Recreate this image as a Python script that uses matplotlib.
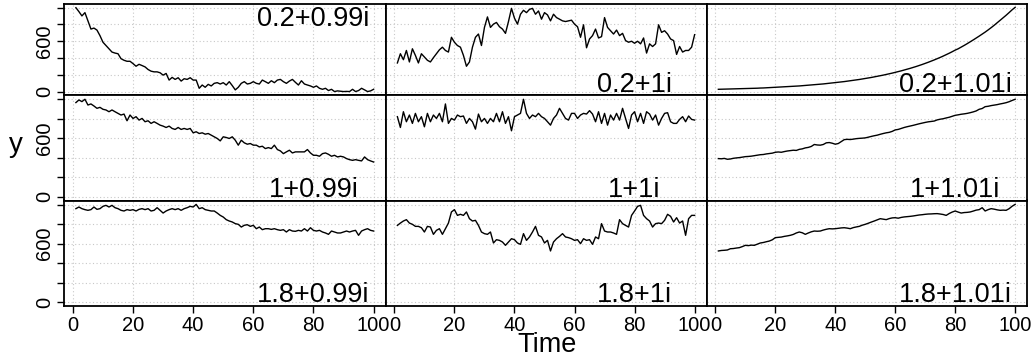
import numpy as np
import matplotlib
matplotlib.use("Agg")
import matplotlib.pyplot as plt

plt.rcParams['font.family'] = ['Liberation Sans', 'DejaVu Sans']

# ---------- data ----------
time = np.arange(1, 101)

row_a = ['0.2', '1', '1.8']
col_b = ['0.99i', '1i', '1.01i']

s_02_099 = [1000, 953, 902, 941, 843, 745, 757, 733, 667, 588,
            549, 510, 471, 459, 451, 392, 373, 361, 361, 333,
            302, 325, 310, 294, 263, 243, 235, 235, 224, 196,
            216, 137, 169, 145, 165, 125, 153, 145, 165, 137,
            137, 39, 78, 51, 86, 67, 98, 106, 90, 106,
            78, 118, 71, 20, 51, 98, 118, 90, 98, 118,
            98, 90, 137, 118, 98, 129, 106, 137, 145, 118,
            98, 125, 145, 110, 78, 129, 90, 78, 67, 51,
            67, 39, 27, 39, 12, 27, 0, 8, 4, 0,
            2, 0, 27, 0, 12, 39, 20, 0, 8, 27]
s_02_1 = [341, 451, 380, 490, 353, 510, 431, 341, 451, 412,
          373, 353, 404, 451, 498, 529, 490, 471, 647, 588,
          549, 529, 431, 302, 353, 529, 647, 686, 549, 765,
          890, 765, 804, 824, 773, 745, 694, 835, 992, 875,
          804, 922, 969, 941, 980, 992, 922, 961, 863, 941,
          914, 843, 922, 882, 863, 843, 835, 843, 851, 804,
          773, 647, 796, 522, 627, 667, 745, 639, 655, 882,
          765, 725, 686, 733, 667, 694, 608, 588, 600, 576,
          600, 569, 639, 459, 569, 537, 569, 796, 706, 725,
          686, 627, 608, 443, 537, 471, 490, 490, 529, 678]
s_02_101 = [27, 28, 29, 30, 31, 32, 33, 34, 35, 36,
            37, 38, 39, 40, 42, 43, 45, 47, 49, 51,
            53, 55, 57, 59, 61, 63, 65, 67, 70, 73,
            76, 79, 82, 85, 88, 91, 95, 99, 103, 107,
            111, 115, 119, 124, 129, 134, 139, 144, 150, 156,
            162, 168, 175, 182, 189, 196, 204, 212, 220, 229,
            238, 247, 257, 267, 277, 288, 299, 311, 323, 336,
            349, 363, 377, 392, 407, 423, 440, 457, 475, 494,
            510, 530, 550, 571, 593, 615, 638, 661, 685, 709,
            735, 762, 790, 820, 850, 880, 910, 942, 975, 1004]
s_1_099 = [966, 993, 976, 1000, 941, 952, 931, 907, 917, 897,
           890, 872, 890, 872, 855, 838, 848, 779, 838, 803,
           821, 786, 803, 769, 779, 752, 769, 752, 734, 724,
           710, 724, 700, 690, 710, 690, 700, 690, 700, 655,
           666, 648, 655, 641, 648, 631, 614, 597, 572, 614,
           607, 597, 614, 579, 528, 579, 552, 538, 545, 528,
           528, 510, 517, 493, 503, 493, 528, 483, 469, 441,
           459, 476, 448, 459, 459, 459, 459, 483, 448, 424,
           424, 414, 441, 448, 434, 414, 424, 407, 414, 407,
           390, 379, 372, 379, 372, 366, 407, 379, 366, 355]
s_1_1 = [821, 710, 872, 769, 838, 752, 855, 769, 821, 717,
         855, 769, 838, 803, 855, 769, 952, 752, 803, 786,
         838, 821, 828, 752, 803, 769, 693, 848, 769, 803,
         752, 803, 769, 855, 769, 872, 752, 821, 676, 821,
         838, 855, 1000, 855, 803, 838, 821, 855, 821, 803,
         769, 734, 803, 838, 907, 855, 803, 786, 855, 855,
         803, 838, 855, 848, 883, 848, 769, 872, 752, 855,
         734, 838, 786, 855, 786, 907, 803, 700, 838, 872,
         769, 855, 752, 872, 848, 786, 838, 734, 803, 855,
         862, 769, 752, 752, 793, 821, 769, 828, 793, 786]
s_1_101 = [390, 388, 392, 383, 386, 393, 397, 400, 405, 410,
           412, 415, 420, 425, 430, 432, 438, 442, 446, 455,
           458, 455, 462, 468, 472, 476, 474, 485, 490, 500,
           505, 515, 535, 530, 528, 535, 552, 555, 548, 538,
           545, 565, 585, 588, 586, 590, 595, 598, 600, 603,
           610, 618, 625, 631, 640, 648, 655, 660, 670, 685,
           690, 700, 710, 718, 725, 732, 740, 748, 755, 762,
           768, 772, 776, 788, 795, 800, 808, 815, 825, 835,
           840, 846, 850, 855, 862, 870, 880, 897, 905, 924,
           928, 935, 940, 945, 952, 958, 965, 975, 988, 1000]
s_18_099 = [960, 977, 960, 950, 943, 950, 977, 953, 960, 984,
            994, 977, 994, 970, 960, 943, 936, 950, 943, 950,
            936, 953, 960, 950, 960, 936, 943, 970, 943, 915,
            936, 950, 960, 950, 960, 943, 960, 970, 984, 977,
            1004, 960, 970, 950, 943, 936, 936, 915, 891, 874,
            847, 833, 823, 806, 799, 771, 789, 795, 778, 789,
            754, 771, 744, 754, 754, 747, 754, 744, 737, 744,
            720, 744, 730, 727, 737, 730, 754, 730, 764, 737,
            730, 737, 720, 710, 696, 730, 720, 710, 710, 720,
            730, 720, 730, 737, 686, 730, 744, 754, 737, 730]
s_18_1 = [788, 812, 833, 847, 812, 799, 778, 778, 764, 720,
          778, 771, 696, 737, 754, 696, 754, 812, 926, 950,
          891, 902, 891, 926, 857, 833, 840, 788, 720, 703,
          696, 720, 607, 641, 634, 617, 583, 617, 651, 641,
          607, 593, 703, 634, 669, 720, 778, 686, 669, 607,
          634, 525, 617, 651, 675, 703, 669, 662, 651, 634,
          641, 600, 651, 634, 641, 593, 669, 651, 806, 730,
          720, 720, 710, 696, 847, 806, 788, 771, 891, 936,
          984, 994, 891, 857, 833, 771, 806, 812, 806, 840,
          902, 881, 823, 867, 812, 833, 686, 857, 891, 891]
s_18_101 = [525, 530, 532, 535, 548, 550, 555, 559, 570, 583,
            580, 585, 583, 595, 607, 612, 620, 627, 640, 662,
            665, 668, 675, 680, 686, 695, 710, 720, 712, 696,
            710, 722, 730, 728, 730, 740, 748, 754, 752, 754,
            758, 762, 764, 760, 754, 765, 772, 778, 790, 799,
            810, 822, 833, 845, 857, 852, 847, 858, 865, 867,
            862, 870, 875, 878, 881, 885, 890, 895, 898, 902,
            905, 906, 908, 909, 905, 900, 891, 910, 925, 936,
            925, 915, 920, 922, 926, 935, 945, 950, 970, 936,
            950, 960, 955, 948, 943, 945, 943, 960, 985, 1004]

series = [[s_02_099, s_02_1, s_02_101],
          [s_1_099, s_1_1, s_1_101],
          [s_18_099, s_18_1, s_18_101]]

y_ticks = [0, 200, 400, 600, 800, 1000]
y_labels = ['0', '', '', '600', '', '']
x_ticks = [0, 20, 40, 60, 80, 100]

# ---------- layout (pixels of a 1032x356 canvas) ----------
W, H = 1032, 356
col_edges = [64, 385.5, 706.5, 1027]
row_edges = [4, 95, 200.5, 306]

fig = plt.figure(figsize=(W / 100, H / 100), dpi=100)

for i in range(3):
    for j in range(3):
        l, r = col_edges[j], col_edges[j + 1]
        t, b = row_edges[i], row_edges[i + 1]
        ax = fig.add_axes([l / W, 1 - b / H, (r - l) / W, (b - t) / H])
        ax.set_xlim(-2.96, 103.96); ax.set_ylim(-41, 1044)
        ax.set_xticks(x_ticks); ax.set_yticks(y_ticks)
        ax.grid(True, color='#c8c8c8', linestyle=(0, (1, 2.2)), linewidth=0.8)
        ax.set_axisbelow(True)
        ax.plot(time, series[i][j], color='black', linewidth=1.0)
        for sp in ax.spines.values():
            sp.set_linewidth(1.3); sp.set_color('black')
        ax.tick_params(direction='out', length=4.8, width=1.0, labelsize=14.5, color='black')
        if j == 0:
            ax.set_yticklabels(y_labels, rotation=90, va='center')
            ax.tick_params(axis='y', pad=2.5)
        else:
            ax.tick_params(axis='y', left=False, labelleft=False)
        if i == 2:
            ax.tick_params(axis='x', pad=2.5)
        else:
            ax.tick_params(axis='x', bottom=False, labelbottom=False)
        lab = f"{row_a[i]}+{col_b[j]}"
        ypos = 780 if (i == 0 and j == 0) else 0
        ax.text(80, ypos, lab, ha='center', va='baseline', fontsize=19.5)

fig.text(547 / W, 1 - 352 / H, 'Time', ha='center', va='baseline', fontsize=19.5)
fig.text(15.5 / W, 1 - 152 / H, 'y', ha='center', va='baseline', fontsize=20)

fig.savefig('out.png', dpi=100)
